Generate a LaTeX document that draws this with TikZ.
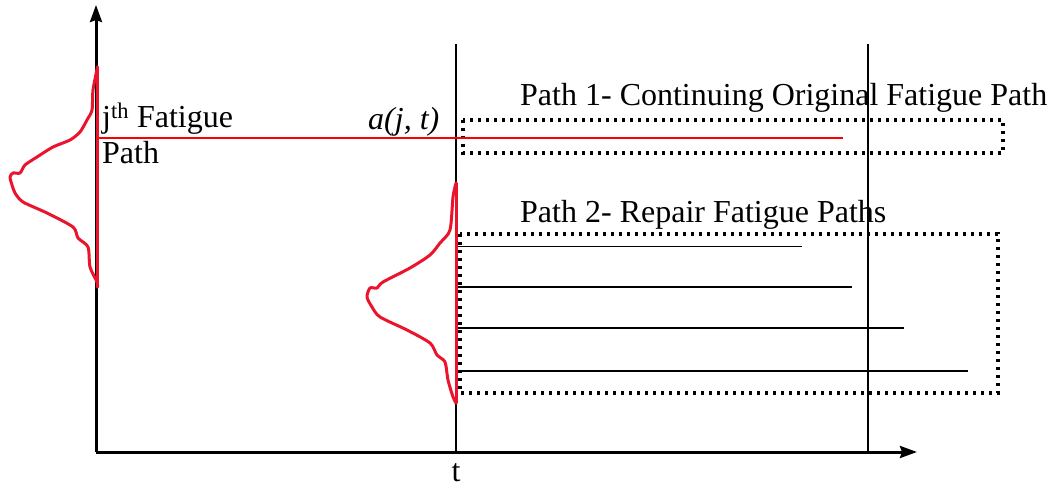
\documentclass[tikz,border=0pt]{standalone}
\usepackage{fontspec}
\setmainfont{Liberation Serif}
\usetikzlibrary{arrows.meta}
\definecolor{curvered}{RGB}{235,20,45}
\definecolor{linered}{RGB}{250,0,0}
\begin{document}
\begin{tikzpicture}[x=1pt,y=-1pt,
  axis/.style={line width=3pt,-{Stealth[length=17pt,width=12pt,inset=2pt]}},
  thinline/.style={line width=1.8pt},
  bell/.style={line width=3pt,color=curvered,line join=round,line cap=round},
  redpath/.style={line width=1.6pt,color=linered},
  dotbox/.style={line width=3.4pt,dash pattern=on 3.4pt off 4.6pt},
  lbl/.style={font=\fontsize{32}{38}\selectfont,inner sep=0pt,anchor=base west}]
\useasboundingbox (0,0) rectangle (1053,486);
% coordinates
\coordinate (O) at (96,452);
\coordinate (Ytop) at (96,5);
\coordinate (Xend) at (917,452);
\coordinate (T1top) at (456,44);
\coordinate (T1bot) at (456,452);
\coordinate (T2top) at (868,44);
\coordinate (T2bot) at (868,452);
% dotted boxes
\draw[dotbox] (463,120) rectangle (1003,153);
\draw[dotbox] (460,234) rectangle (998,393);
% verticals
\draw[thinline] (T1top) -- (T1bot);
\draw[thinline] (T2top) -- (T2bot);
% axes
\draw[axis] (O) -- (Ytop);
\draw[axis] (O) -- (Xend);
% repair paths
\coordinate (r1a) at (458,246.5); \coordinate (r1b) at (802,246.5);
\coordinate (r2a) at (458,286.7); \coordinate (r2b) at (852,286.7);
\coordinate (r3a) at (458,328.3); \coordinate (r3b) at (904,328.3);
\coordinate (r4a) at (458,370.7); \coordinate (r4b) at (968,370.7);
\draw[thinline] (r1a) -- (r1b);
\draw[thinline] (r2a) -- (r2b);
\draw[thinline] (r3a) -- (r3b);
\draw[thinline] (r4a) -- (r4b);
% original fatigue path
\coordinate (p1a) at (97,138.3);
\coordinate (p1b) at (843,138.3);
\draw[redpath] (p1a) -- (p1b);
% left distribution
\coordinate (d1top) at (97,67);
\coordinate (d1bot) at (97,287);
\draw[bell] (d1top) -- (d1bot);
\draw[bell] plot[smooth,tension=0.45] coordinates {(97.5,67) (93,90) (92,110) (87,120) (80,132) (70,140) (53,147) (37,157) (25,165) (20,173) (13,173) (10,177) (12,185) (15,193) (23,202) (47,213) (73,227) (78,238) (88,247) (90,267) (97,282) (97.5,287)};
% right distribution
\coordinate (d2top) at (456,183);
\coordinate (d2bot) at (456,403);
\draw[bell] (d2top) -- (d2bot);
\draw[bell] plot[smooth,tension=0.45] coordinates {(456,183) (453,197) (450,230) (440,243) (430,255) (410,268) (383,282) (377,288) (370,288) (367,297) (372,307) (380,317) (407,330) (430,343) (437,355) (445,362) (448,380) (453,397) (456,403)};
% labels
\node[lbl] (jth) at (102,128) {j\textsuperscript{th} Fatigue};
\node[lbl] (jpath) at (102,164) {Path};
\node[lbl] (ajt) at (368,130) {\itshape a(j, t)};
\node[lbl] (path1) at (520,106) {Path 1- Continuing Original Fatigue Path};
\node[lbl] (path2) at (520,223) {Path 2- Repair Fatigue Paths};
\node[font=\fontsize{32}{38}\selectfont,inner sep=0pt,anchor=base] (tlbl) at (456,481) {t};
\end{tikzpicture}
\end{document}
